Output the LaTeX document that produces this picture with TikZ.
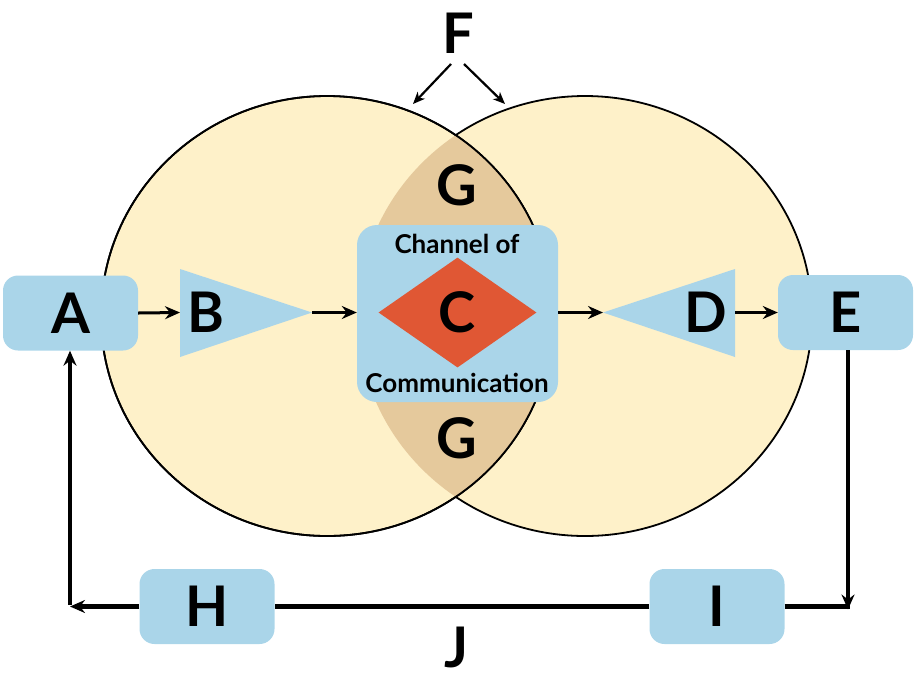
\documentclass[tikz,border=0pt]{standalone}
\usepackage{fontspec}
\setmainfont{Lato}
\usetikzlibrary{arrows.meta,shapes.geometric}
\definecolor{cream}{HTML}{FEF1C9}
\definecolor{lens}{HTML}{E5C99C}
\definecolor{sky}{HTML}{AAD5E9}
\definecolor{rust}{HTML}{E05734}
\tikzset{
  bluebox/.style={fill=sky, rounded corners=15, minimum width=135, minimum height=75, inner sep=0, font=\biglet},
  letter/.style={inner sep=0, font=\biglet},
  tri/.style={fill=sky},
  conn/.style={line width=3, -{Stealth[length=15pt,width=13pt,inset=5pt]}},
  loopline/.style={line width=4.5},
  fline/.style={line width=2.2, -{Stealth[length=12pt,width=10pt,inset=3.5pt]}},
  ell/.style={line width=1.8}
}
\newcommand{\biglet}{\fontsize{56}{60}\selectfont\bfseries}
\newcommand{\chfont}{\fontsize{26}{30}\selectfont\bfseries}
\begin{document}
\begin{tikzpicture}[x=1pt,y=-1pt]
\useasboundingbox (0,0) rectangle (917,673);
% ellipses
\draw[ell, fill=cream] (585,316) ellipse [x radius=227, y radius=220];
\draw[ell, fill=cream] (327,316) ellipse [x radius=226, y radius=220];
\begin{scope}
  \clip (327,316) ellipse [x radius=226, y radius=220];
  \fill[lens] (585,316) ellipse [x radius=227, y radius=220];
\end{scope}
\draw[ell] (327,316) ellipse [x radius=226, y radius=220];
% G labels
\node[letter] (G1) at (457,185) {G};
\node[letter] (G2) at (457,438) {G};
% channel box
\node[fill=sky, rounded corners=20, minimum width=201, minimum height=177, inner sep=0] (CH) at (457.5,313.5) {};
\node[font=\chfont, inner sep=0] (ch1) at (457,244) {Channel of};
\node[font=\chfont, inner sep=0] (ch2) at (457,383) {Communication};
\node[diamond, fill=rust, minimum width=158, minimum height=110, inner sep=0, font=\biglet] (C) at (457.5,312.5) {C};
% boxes
\node[bluebox] (A) at (70.5,313) {A};
\node[bluebox] (E) at (845.5,312.5) {E};
\node[bluebox] (H) at (207,606.5) {H};
\node[bluebox] (I) at (717,606.5) {I};
% triangles
\coordinate (Bbase) at (180,312.5);
\coordinate (Btip) at (312,312.5);
\fill[tri] (180,269) -- (Btip) -- (180,357) -- cycle;
\node[letter] (B) at (206,312) {B};
\coordinate (Dtip) at (603,312.5);
\coordinate (Dbase) at (735,312.5);
\fill[tri] (735,269) -- (Dtip) -- (735,357) -- cycle;
\node[letter] (D) at (706,312) {D};
% connectors
\draw[conn] (A.east) -- (Bbase);
\draw[conn] (Btip) -- (CH.west |- Btip);
\draw[conn] (CH.east |- Dtip) -- (Dtip);
\draw[conn] (Dbase) -- (E.west |- Dbase);
% loop
\coordinate (RC) at (848,606.5);
\coordinate (LC) at (70,606.5);
\draw[conn, line width=3.4] (E.south -| RC) -- ([yshift=-3]RC);
\draw[loopline] (I.east) -- ([xshift=1.7]RC);
\draw[loopline] (I.west) -- (H.east);
\draw[conn, line width=4.5] (H.west) -- (LC);
\draw[conn, line width=3.4] ([yshift=2]LC) -- (A.south -| LC);
\node[letter] (J) at (457,647) {J};
% F
\node[letter] (F) at (458,33) {F};
\coordinate (f0) at (451,64);
\coordinate (f1) at (413,104);
\coordinate (g0) at (464,64);
\coordinate (g1) at (505,104);
\draw[fline] (f0) -- (f1);
\draw[fline] (g0) -- (g1);
\end{tikzpicture}
\end{document}
